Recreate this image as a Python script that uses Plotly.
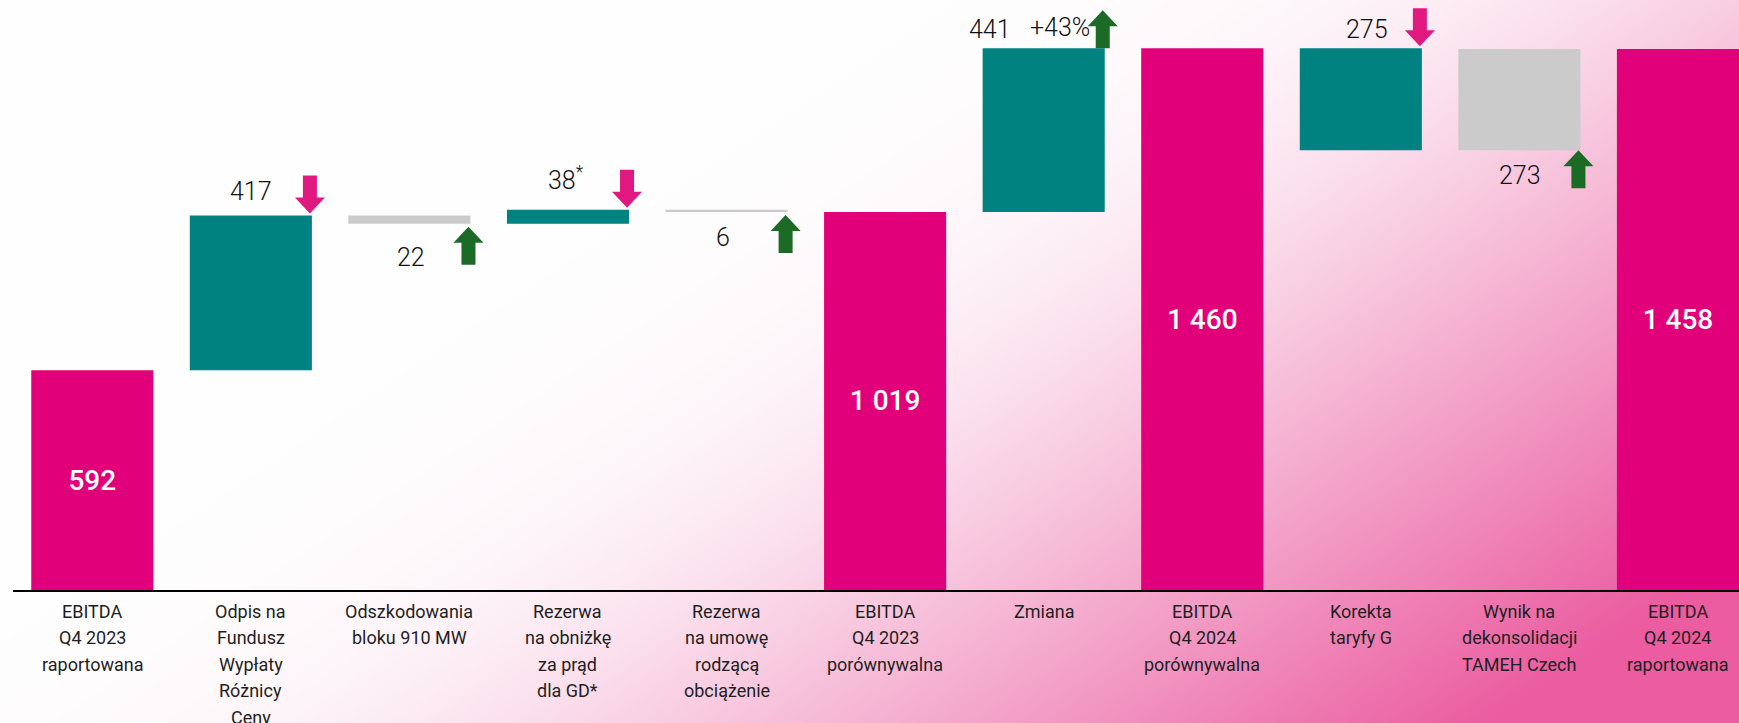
import base64, struct, zlib
import numpy as np
import plotly.graph_objects as go

# ---------------- data ----------------
categories = [
    "EBITDA<br>Q4 2023<br>raportowana",
    "Odpis na<br>Fundusz<br>Wypłaty<br>Różnicy<br>Ceny",
    "Odszkodowania<br>bloku 910 MW",
    "Rezerwa<br>na obniżkę<br>za prąd<br>dla GD*",
    "Rezerwa<br>na umowę<br>rodzącą<br>obciążenie",
    "EBITDA<br>Q4 2023<br>porównywalna",
    "Zmiana",
    "EBITDA<br>Q4 2024<br>porównywalna",
    "Korekta<br>taryfy G",
    "Wynik na<br>dekonsolidacji<br>TAMEH Czech",
    "EBITDA<br>Q4 2024<br>raportowana",
]
measures = ["absolute", "relative", "relative", "relative", "relative", "total",
            "relative", "total", "relative", "relative", "total"]
values = [592, 417, -22, 38, -6, None, 441, None, -275, 273, None]
total_labels = ["592", "", "", "", "", "1 019", "", "1 460", "", "", "1 458"]
change_labels = ["", "417", "22", "38<sup>*</sup>", "6", "", "441", "", "275", "273", ""]
change_pct = "+43%"
arrow_dirs = [None, "down", "up", "down", "up", None, "up", None, "down", "up", None]

# ---------------- styles ----------------
PINK = "#E2007A"
TEAL = "#008280"
GRAY = "#CBCBCB"
ARROW_PINK = "#E1187F"
ARROW_GREEN = "#1B6A26"
bar_colors = [PINK, TEAL, GRAY, TEAL, GRAY, PINK, TEAL, PINK, TEAL, GRAY, PINK]
FONT = "Roboto, 'Noto Sans', 'DejaVu Sans', sans-serif"

W, H = 1739, 723
ML, MR, MT, MB = 13, 0, 0, 133
BARGAP = 0.23
BW = 1 - BARGAP

# ---------------- waterfall geometry from values ----------------
bases, heights, ends_lo, ends_hi = [], [], [], []
running = 0
for m, v in zip(measures, values):
    if m == "absolute":
        lo, hi = 0, v
        running = v
    elif m == "total":
        lo, hi = 0, running
    else:
        new = running + v
        lo, hi = min(running, new), max(running, new)
        running = new
    bases.append(lo)
    heights.append(hi - lo)
    ends_lo.append(lo)
    ends_hi.append(hi)

xs = list(range(len(categories)))

# ---------------- background gradient image ----------------
def make_png(arr):
    h, w, _ = arr.shape
    raw = b"".join(b"\x00" + arr[r].tobytes() for r in range(h))
    def chunk(tag, data):
        c = struct.pack(">I", len(data)) + tag + data
        return c + struct.pack(">I", zlib.crc32(tag + data) & 0xFFFFFFFF)
    png = b"\x89PNG\r\n\x1a\n"
    png += chunk(b"IHDR", struct.pack(">IIBBBBB", w, h, 8, 2, 0, 0, 0))
    png += chunk(b"IDAT", zlib.compress(raw, 9))
    png += chunk(b"IEND", b"")
    return "data:image/png;base64," + base64.b64encode(png).decode()

gw, gh = 580, 241
gx = np.linspace(0, W, gw)[None, :]
gy = np.linspace(0, H, gh)[:, None]
s = 0.00085 * gx + 0.00126 * gy - 1.187
k = 8.0
t = np.clip(np.log1p(np.exp(k * s)) / k, 0, 1)
pinkbg = np.array([235, 92, 160], dtype=float)
img = 255 - t[..., None] * (255 - pinkbg[None, None, :])
img = np.clip(img, 0, 255).astype(np.uint8)
bg_src = make_png(img)

pw = W - ML - MR
ph = H - MT - MB

fig = go.Figure()
fig.add_trace(go.Bar(
    x=xs, y=heights, base=bases,
    marker=dict(color=bar_colors, line=dict(width=0)),
    text=total_labels, textposition="inside", insidetextanchor="middle",
    textfont=dict(color="white", size=28, family=FONT, weight=500),
    hoverinfo="skip", showlegend=False, cliponaxis=False,
))

annotations = []
# category labels (one annotation per line)
for i, lab in enumerate(categories):
    for k_, line in enumerate(lab.split("<br>")):
        annotations.append(dict(
            x=i, y=0, xref="x", yref="y", text=line, showarrow=False,
            xanchor="center", yanchor="middle", yshift=-(21 + 26.6 * k_),
            font=dict(size=18, color="#1f1f1f", family=FONT),
        ))

# change labels
label_style = {  # index: (position, yshift px, xshift px)
    1: ("above", 8, 0),
    2: ("below", -17, 2),
    3: ("above", 13, -2),
    4: ("below", -9, -4),
    6: ("above", 2, -54),
    8: ("above", 2, 6),
    9: ("below", -9, 1),
}
for i, lab in enumerate(change_labels):
    if not lab:
        continue
    pos, ys, xsf = label_style[i]
    annotations.append(dict(
        x=i, y=ends_hi[i] if pos == "above" else ends_lo[i], xref="x", yref="y",
        text=lab, showarrow=False, xanchor="center",
        yanchor="bottom" if pos == "above" else "top", yshift=ys, xshift=xsf,
        font=dict(size=25, color="#111111", family=FONT, weight=300),
    ))
annotations.append(dict(
    x=6, y=ends_hi[6], xref="x", yref="y", text=change_pct, showarrow=False,
    xanchor="center", yanchor="bottom", yshift=4, xshift=16,
    font=dict(size=25, color="#111111", family=FONT, weight=300),
))

# arrows
def arrow_path(direction, tip_offset, dx=-2):
    L, HL, HW, SW = 38, 16, 15, 7
    if direction == "up":
        pts = [(0, 0), (HW, -HL), (SW, -HL), (SW, -L), (-SW, -L), (-SW, -HL), (-HW, -HL)]
    else:
        pts = [(0, 0), (HW, HL), (SW, HL), (SW, L), (-SW, L), (-SW, HL), (-HW, HL)]
    pts = [(px + dx, py + tip_offset) for px, py in pts]
    return "M " + " L ".join(f"{px},{py}" for px, py in pts) + " Z"

arrow_offsets = {1: 2, 2: -3, 3: 2, 4: -3, 6: 38, 8: 2, 9: 0}
shapes = []
for i, d in enumerate(arrow_dirs):
    if d is None:
        continue
    if d == "down":
        anchor, col = ends_hi[i], ARROW_PINK
    elif i == 6:
        anchor, col = ends_hi[i], ARROW_GREEN
    else:
        anchor, col = ends_lo[i], ARROW_GREEN
    shapes.append(dict(
        type="path", xref="x", yref="y", xsizemode="pixel", ysizemode="pixel",
        xanchor=i + BW / 2, yanchor=anchor, path=arrow_path(d, arrow_offsets[i]),
        fillcolor=col, line=dict(width=0), layer="above",
    ))

fig.update_layout(
    width=W, height=H,
    margin=dict(l=ML, r=MR, t=MT, b=MB, pad=0),
    paper_bgcolor="white", plot_bgcolor="rgba(0,0,0,0)",
    bargap=BARGAP, showlegend=False,
    font=dict(family=FONT),
    xaxis=dict(range=[-0.5, 10.385], showticklabels=False, ticks="",
               showgrid=False, zeroline=False, showline=True,
               linecolor="black", linewidth=2, fixedrange=True),
    yaxis=dict(range=[0, 1590], visible=False, showgrid=False, zeroline=False),
    annotations=annotations, shapes=shapes,
    images=[dict(source=bg_src, xref="paper", yref="paper",
                 x=-ML / pw, y=1 + MT / ph, sizex=W / pw, sizey=H / ph,
                 xanchor="left", yanchor="top", sizing="stretch", layer="below")],
)

fig.write_html("out.html")
